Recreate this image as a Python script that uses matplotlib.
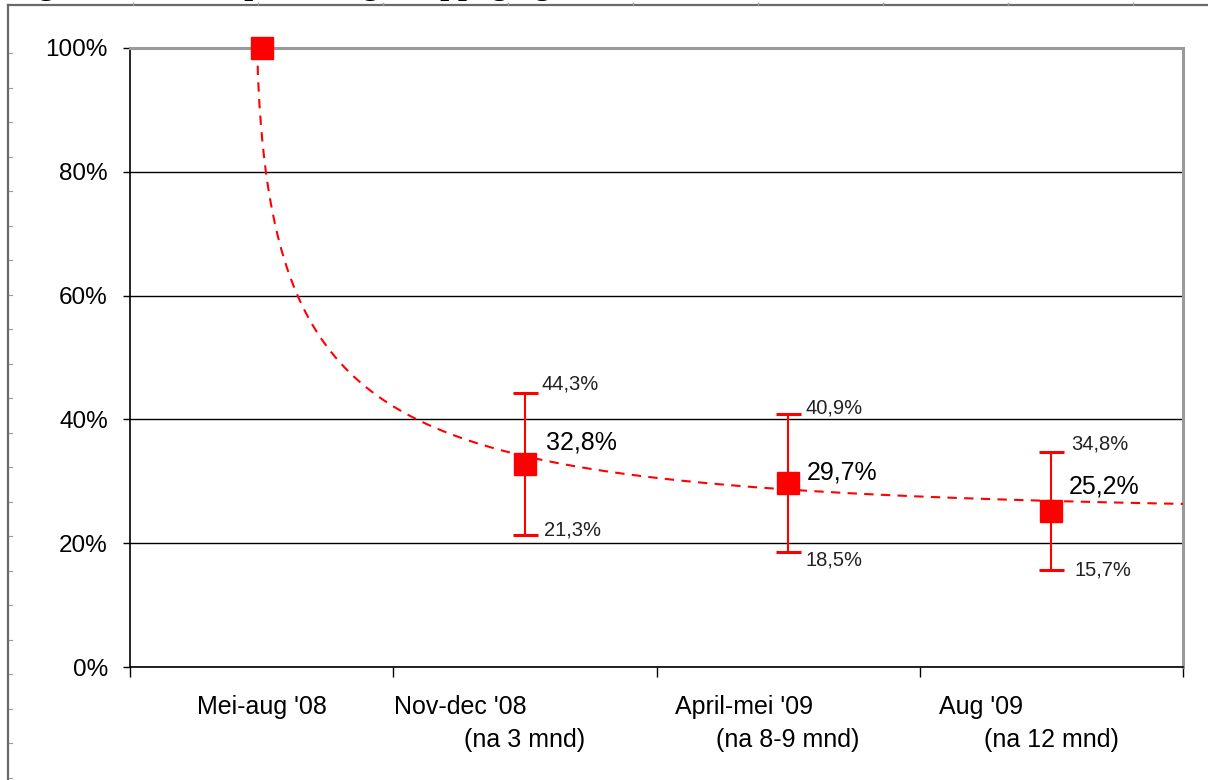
import matplotlib.pyplot as plt
import numpy as np
from matplotlib.lines import Line2D

plt.rcParams['font.family'] = ['Liberation Sans', 'DejaVu Sans']

# meetmomenten en percentages
periods = ["Mei-aug '08", "Nov-dec '08", "April-mei '09", "Aug '09"]
period_notes = ["", "(na 3 mnd)", "(na 8-9 mnd)", "(na 12 mnd)"]
pct = [100.0, 32.8, 29.7, 25.2]
ci_low = [np.nan, 21.3, 18.5, 15.7]
ci_high = [np.nan, 44.3, 40.9, 34.8]
y_ticks = [0, 20, 40, 60, 80, 100]

# trendlijn (met de hand ingepast): y = c + k * exp(-b * sqrt(x - x0))
trend_c, trend_k, trend_b, trend_x0 = 25.0, 83.6, 2.2, 0.98

# plaatsing van labels in pixels (handmatig zoals in het origineel)
value_offsets = [None, (21, 21), (19, 11), (17, 25)]
high_offsets = [None, (17, 9), (17, 6), (20, 8)]
low_offsets = [None, (19, 5), (17, -8), (23, 0)]
first_line_dx = [0, -65, -44, -70]

W, H = 1208, 780
fig = plt.figure(figsize=(W / 100, H / 100), dpi=100)
ax = fig.add_axes([130 / W, 1 - 667 / H, (1183 - 130) / W, (667 - 48) / H])

x = np.arange(1, len(periods) + 1)
red = '#ff0000'

# trendlijn
xs = np.linspace(trend_x0 + 1e-5, 4.5, 600)
ys = trend_c + trend_k * np.exp(-trend_b * np.sqrt(xs - trend_x0))
ax.plot(xs, ys, color=red, lw=1.5, ls=(0, (4.5, 3.5)), zorder=3)

# foutbalken
p = np.array(pct)
lo = np.array(ci_low)
hi = np.array(ci_high)
ax.errorbar(x[1:], p[1:], yerr=[p[1:] - lo[1:], hi[1:] - p[1:]], fmt='none',
            ecolor=red, elinewidth=1.5, capsize=9, capthick=2.2, zorder=4)
ax.plot(x, p, ls='none', marker='s', ms=15.5, color=red, mec=red,
        clip_on=False, zorder=5)


def fmt(v):
    return f"{v:.1f}%".replace('.', ',')


for i in range(1, len(pct)):
    ax.annotate(fmt(pct[i]), (x[i], pct[i]), xytext=value_offsets[i],
                textcoords='offset pixels', ha='left', va='center', fontsize=18)
    ax.annotate(fmt(ci_high[i]), (x[i], ci_high[i]), xytext=high_offsets[i],
                textcoords='offset pixels', ha='left', va='center', fontsize=14.5,
                color='#222222')
    ax.annotate(fmt(ci_low[i]), (x[i], ci_low[i]), xytext=low_offsets[i],
                textcoords='offset pixels', ha='left', va='center', fontsize=14.5,
                color='#222222')

# assen
ax.set_xlim(0.5, 4.5)
ax.set_ylim(0, 100)
ax.set_yticks(y_ticks)
ax.set_yticklabels([f"{t}%" for t in y_ticks], fontsize=17.5)
ax.set_xticks(np.arange(0.5, 4.6, 1.0))
ax.set_xticklabels([])
ax.tick_params(axis='y', length=5, width=1, pad=11, color='black')
ax.tick_params(axis='x', length=7, width=1, color='black')
ax.grid(axis='y', color='black', lw=1)
ax.set_axisbelow(True)
for s in ('top', 'right'):
    ax.spines[s].set_color('#9a9a9a')
    ax.spines[s].set_linewidth(2.2)
for s in ('left', 'bottom'):
    ax.spines[s].set_color('black')
    ax.spines[s].set_linewidth(1.2)

for i, name in enumerate(periods):
    ax.annotate(name, (x[i], 0), xycoords=('data', 'axes fraction'),
                xytext=(first_line_dx[i], -40), textcoords='offset pixels',
                ha='center', va='center', fontsize=18)
    if period_notes[i]:
        ax.annotate(period_notes[i], (x[i], 0), xycoords=('data', 'axes fraction'),
                    xytext=(0, -73), textcoords='offset pixels',
                    ha='center', va='center', fontsize=18)

# kader rond de figuur en afgesneden titel
fig.add_artist(Line2D([8 / W, 1], [1 - 5 / H, 1 - 5 / H], color='#6a6a6a', lw=1.6,
                      transform=fig.transFigure))
fig.add_artist(Line2D([8 / W, 8 / W], [0, 1 - 5 / H], color='#6a6a6a', lw=1.6,
                      transform=fig.transFigure))
for tx in np.arange(133, W, 125):
    fig.add_artist(Line2D([tx / W, tx / W], [1 - 3 / H, 1 - 5 / H], color='#9a9a9a',
                          lw=1, transform=fig.transFigure))
for ty in np.arange(53, H, 34.5):
    fig.add_artist(Line2D([9 / W, 12 / W], [1 - ty / H, 1 - ty / H], color='#9a9a9a',
                          lw=0.8, transform=fig.transFigure))
fig.text(10 / W, 1 + 6 / H, "Figuur 4.12: Het percentage stoppogingen",
         family=['Liberation Serif', 'DejaVu Serif'], weight='bold', fontsize=23,
         ha='left', va='baseline')

fig.savefig('out.png', dpi=100)
